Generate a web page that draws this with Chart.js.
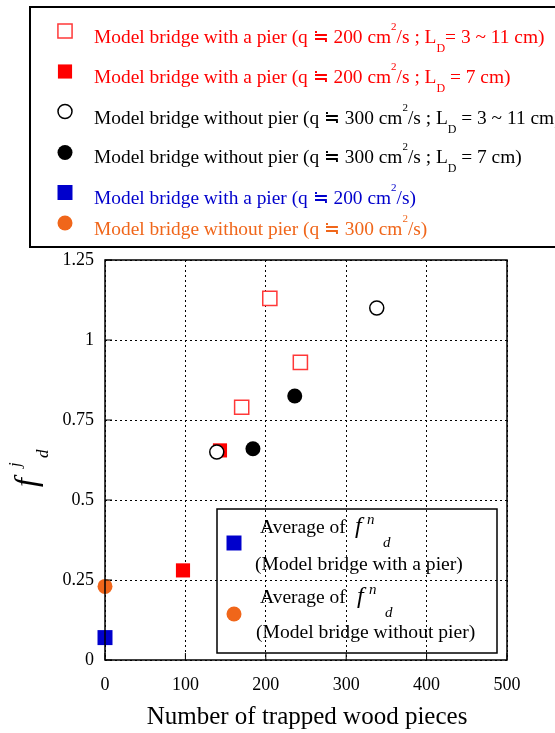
<!DOCTYPE html>
<html>
<head>
<meta charset="utf-8">
<script src="https://cdn.jsdelivr.net/npm/chart.js@4.4.1/dist/chart.umd.min.js"></script>
<style>
  body { margin: 0; background: #fff; }
  canvas { display: block; }
</style>
</head>
<body>
<canvas id="myChart" width="555" height="733"></canvas>
<script>
// axis ticks
var xTicks = [0, 100, 200, 300, 400, 500];
var yTicks = [0, 0.25, 0.5, 0.75, 1, 1.25];

// model bridge with a pier, q ~ 200, L_D = 3 ~ 11 cm (open red squares)
var pierRangeX = [205, 243, 170];
var pierRangeY = [1.13, 0.93, 0.79];
// model bridge with a pier, q ~ 200, L_D = 7 cm (filled red squares)
var pier7X = [97, 143];
var pier7Y = [0.28, 0.655];
// model bridge without pier, q ~ 300, L_D = 3 ~ 11 cm (open circles)
var noPierRangeX = [139, 338];
var noPierRangeY = [0.65, 1.10];
// model bridge without pier, q ~ 300, L_D = 7 cm (black circles)
var noPier7X = [184, 236];
var noPier7Y = [0.66, 0.825];
// averages of f^n_d
var pierAvgX = [0];
var pierAvgY = [0.07];
var noPierAvgX = [0];
var noPierAvgY = [0.23];

var SERIF = '"Liberation Serif", "Times New Roman", serif';
var RED = '#ff0000';
var BLUE = '#0000cc';
var ORANGE = '#f0661a';

function pts(xs, ys) {
  return xs.map(function (x, i) { return { x: x, y: ys[i] }; });
}

// legend lines: [text, 'sup' | 'sub' | '']
var legendLines = [
  [['Model bridge with a pier (q \u2252 200 cm'], ['2', 'sup'], ['/s ; L'], ['D', 'sub'], ['= 3 ~ 11 cm)']],
  [['Model bridge with a pier (q \u2252 200 cm'], ['2', 'sup'], ['/s ; L'], ['D', 'sub'], [' = 7 cm)']],
  [['Model bridge without pier (q \u2252 300 cm'], ['2', 'sup'], ['/s ; L'], ['D', 'sub'], [' = 3 ~ 11 cm)']],
  [['Model bridge without pier (q \u2252 300 cm'], ['2', 'sup'], ['/s ; L'], ['D', 'sub'], [' = 7 cm)']],
  [['Model bridge with a pier (q \u2252 200 cm'], ['2', 'sup'], ['/s)']],
  [['Model bridge without pier (q \u2252 300 cm'], ['2', 'sup'], ['/s)']]
];
var legendColors = [RED, RED, '#000', '#000', BLUE, ORANGE];
var legendBase = [43, 83, 124, 163, 204, 235];
var legendMarkY = [31, 71.5, 111.5, 152.5, 192.5, 223];

function rich(ctx, x, y, parts, size, color) {
  ctx.fillStyle = color;
  ctx.textAlign = 'left';
  ctx.textBaseline = 'alphabetic';
  parts.forEach(function (p) {
    var fs = size, dy = 0;
    if (p[1] == 'sup') { fs = 11; dy = -13; }
    if (p[1] == 'sub') { fs = 12; dy = 9; }
    ctx.font = fs + 'px ' + SERIF;
    ctx.fillText(p[0], x, y + dy);
    x += ctx.measureText(p[0]).width;
  });
}

function drawMarker(ctx, ds, x, y) {
  ctx.save();
  ctx.fillStyle = ds.backgroundColor;
  ctx.strokeStyle = ds.borderColor;
  ctx.lineWidth = ds.borderWidth;
  Chart.helpers.drawPoint(ctx, {
    pointStyle: ds.pointStyle,
    radius: ds.pointRadius,
    borderWidth: ds.borderWidth
  }, x, y);
  ctx.restore();
}

var decor = {
  id: 'decor',
  beforeDraw: function (chart) {
    var ctx = chart.ctx;
    ctx.save();
    ctx.fillStyle = '#fff';
    ctx.fillRect(0, 0, chart.width, chart.height);
    ctx.restore();
  },
  afterDraw: function (chart) {
    var ctx = chart.ctx;
    var a = chart.chartArea;
    var xs = chart.scales.x, ys = chart.scales.y;
    var sets = chart.data.datasets;
    ctx.save();

    // plot frame and inward ticks
    ctx.strokeStyle = '#000';
    ctx.lineWidth = 1.5;
    ctx.setLineDash([]);
    ctx.strokeRect(a.left, a.top, a.right - a.left, a.bottom - a.top);
    ctx.lineWidth = 1;
    ctx.beginPath();
    xTicks.forEach(function (v) {
      var px = xs.getPixelForValue(v);
      ctx.moveTo(px, a.bottom); ctx.lineTo(px, a.bottom - 7);
    });
    yTicks.forEach(function (v) {
      var py = ys.getPixelForValue(v);
      ctx.moveTo(a.left, py); ctx.lineTo(a.left + 7, py);
    });
    ctx.stroke();

    // top legend box
    ctx.lineWidth = 2;
    ctx.strokeStyle = '#000';
    ctx.strokeRect(30, 7, 600, 240);
    legendLines.forEach(function (line, i) {
      drawMarker(ctx, sets[i], 65, legendMarkY[i]);
      rich(ctx, 94, legendBase[i], line, 19.4, legendColors[i]);
    });

    // inner legend box (averages)
    ctx.lineWidth = 1.5;
    ctx.strokeStyle = '#000';
    ctx.strokeRect(217, 509, 280, 144);
    var groups = [
      { set: 4, my: 543, base: 533, fx: 355, text: '(Model bridge with a pier)', tx: 255, ty: 570 },
      { set: 5, my: 614, base: 603, fx: 357, text: '(Model bridge without pier)', tx: 256, ty: 638 }
    ];
    groups.forEach(function (g) {
      drawMarker(ctx, sets[g.set], 234, g.my);
      ctx.fillStyle = '#000';
      ctx.textAlign = 'left';
      ctx.textBaseline = 'alphabetic';
      ctx.font = '19.5px ' + SERIF;
      ctx.fillText('Average of', 260, g.base);
      ctx.font = 'italic 24px ' + SERIF;
      ctx.fillText('f', g.fx, g.base);
      ctx.font = 'italic 15px ' + SERIF;
      ctx.fillText('n', g.fx + 12, g.base - 9);
      ctx.fillText('d', g.fx + 28, g.base + 14);
      ctx.font = '19.6px ' + SERIF;
      ctx.fillText(g.text, g.tx, g.ty);
    });

    // x axis title
    ctx.fillStyle = '#000';
    ctx.font = '25px ' + SERIF;
    ctx.textAlign = 'center';
    ctx.fillText('Number of trapped wood pieces', 307, 724);

    // y axis title, f^j_d rotated
    ctx.translate(36, 487);
    ctx.rotate(-Math.PI / 2);
    ctx.textAlign = 'left';
    ctx.font = 'italic 32px ' + SERIF;
    ctx.fillText('f', 0, 0);
    ctx.font = 'italic 17px ' + SERIF;
    ctx.fillText('j', 20, -16);
    ctx.fillText('d', 29, 12);
    ctx.restore();
  }
};

var ctx = document.getElementById('myChart');
new Chart(ctx, {
  type: 'scatter',
  data: {
    datasets: [
      { label: 'pier L_D 3-11', data: pts(pierRangeX, pierRangeY), pointStyle: 'rect', pointRadius: 10, borderWidth: 1.5, borderColor: '#ff3838', backgroundColor: '#fff', order: 3 },
      { label: 'pier L_D 7', data: pts(pier7X, pier7Y), pointStyle: 'rect', pointRadius: 10, borderWidth: 0, borderColor: RED, backgroundColor: RED, order: 2 },
      { label: 'no pier L_D 3-11', data: pts(noPierRangeX, noPierRangeY), pointStyle: 'circle', pointRadius: 7, borderWidth: 1.5, borderColor: '#000', backgroundColor: '#fff', order: 0 },
      { label: 'no pier L_D 7', data: pts(noPier7X, noPier7Y), pointStyle: 'circle', pointRadius: 7.5, borderWidth: 0, borderColor: '#000', backgroundColor: '#000', order: 1 },
      { label: 'pier avg', data: pts(pierAvgX, pierAvgY), pointStyle: 'rect', pointRadius: 10.6, borderWidth: 0, borderColor: BLUE, backgroundColor: BLUE, order: 4 },
      { label: 'no pier avg', data: pts(noPierAvgX, noPierAvgY), pointStyle: 'circle', pointRadius: 7.5, borderWidth: 0, borderColor: ORANGE, backgroundColor: ORANGE, order: 5 }
    ].map(function (d) { d.clip = false; d.pointHoverRadius = d.pointRadius; return d; })
  },
  options: {
    responsive: false,
    animation: false,
    events: [],
    devicePixelRatio: 1,
    layout: { padding: { top: 260, right: 48, left: 0, bottom: 0 } },
    plugins: {
      legend: { display: false },
      tooltip: { enabled: false }
    },
    scales: {
      x: {
        type: 'linear',
        min: 0,
        max: 500,
        afterFit: function (s) { s.height = 73; },
        afterBuildTicks: function (s) { s.ticks = xTicks.map(function (v) { return { value: v }; }); },
        grid: { color: '#000', lineWidth: 1, drawTicks: false },
        border: { display: false, dash: [2, 3] },
        ticks: { color: '#000', padding: 14, maxRotation: 0, font: { family: SERIF, size: 18 } }
      },
      y: {
        type: 'linear',
        min: 0,
        max: 1.25,
        afterFit: function (s) { s.width = 105; },
        afterBuildTicks: function (s) { s.ticks = yTicks.map(function (v) { return { value: v }; }); },
        grid: { color: '#000', lineWidth: 1, drawTicks: false },
        border: { display: false, dash: [2, 3] },
        ticks: {
          color: '#000', padding: 11, font: { family: SERIF, size: 18 },
          callback: function (v) { return String(v); }
        }
      }
    }
  },
  plugins: [decor]
});
</script>
</body>
</html>
